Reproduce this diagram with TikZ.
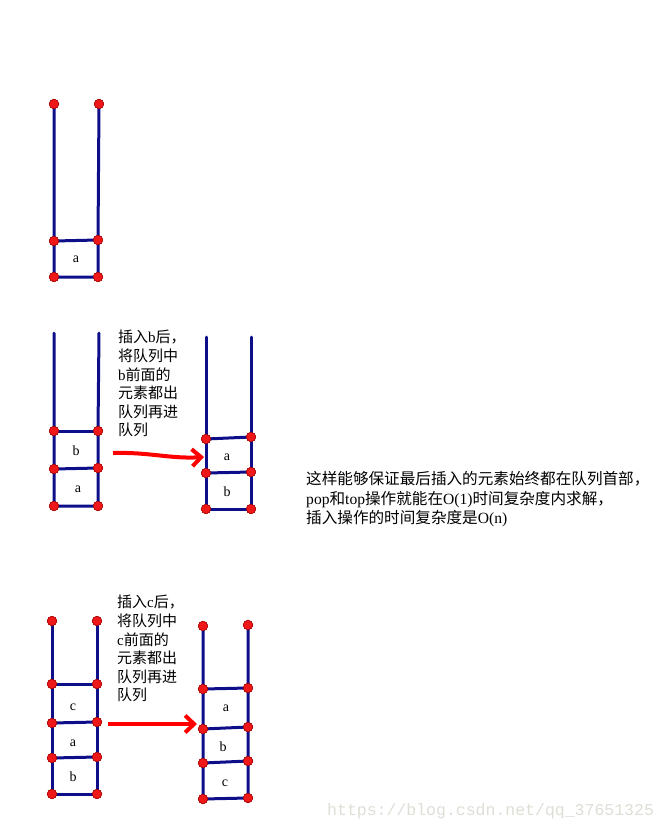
\documentclass[tikz,border=0pt]{standalone}
\usepackage{fontspec}
\setmainfont{Liberation Serif}
\newfontfamily\cjk{Noto Sans CJK SC}
\newfontfamily\wmfont{Liberation Mono}
\usetikzlibrary{arrows.meta}
\definecolor{wallblue}{RGB}{14,14,138}
\definecolor{dotred}{RGB}{238,24,24}
\definecolor{wmgray}{RGB}{222,222,214}
\begin{document}
\begin{tikzpicture}[x=1pt,y=-1pt,
  wall/.style={draw=wallblue, line width=3pt, line cap=round},
  dot/.style={circle, fill=dotred, draw=red!65!black, line width=0.5pt, minimum size=9.5pt, inner sep=0pt},
  lbl/.style={font=\fontsize{14}{14}\selectfont, inner sep=0pt},
  note/.style={font=\cjk\fontsize{15}{18.6}\selectfont, align=left, anchor=north west, inner sep=0pt},
  bignote/.style={font=\cjk\fontsize{15.6}{19.5}\selectfont, align=left, anchor=north west, inner sep=0pt},
  movearrow/.style={draw=red, line width=4pt, -{Straight Barb[length=9pt,width=17pt]}}]
\useasboundingbox (0,0) rectangle (668,830);

% ---------- stack 1 ----------
\node[dot] (a1) at (54,104) {};
\node[dot] (a2) at (99,104) {};
\node[dot] (a3) at (54,241) {};
\node[dot] (a4) at (98,240) {};
\node[dot] (a5) at (54,277) {};
\node[dot] (a6) at (98,277) {};
\draw[wall] (a1.center) -- (a3.center) -- (a5.center) -- (a6.center) -- (a4.center) -- (a2.center);
\draw[wall] (a3.center) -- (a4.center);
\foreach \n in {a1,a2,a3,a4,a5,a6} \node[dot] at (\n) {};
\node[lbl] (la1) at (76,259) {a};

% ---------- stack 2 left ----------
\coordinate (s2tl) at (54,333); \coordinate (s2tr) at (99,333);
\node[dot] (b1) at (54,431) {};
\node[dot] (b2) at (98,431) {};
\node[dot] (b3) at (54,469) {};
\node[dot] (b4) at (98,468) {};
\node[dot] (b5) at (54,506) {};
\node[dot] (b6) at (98,506) {};
\draw[wall] (s2tl) -- (b1.center) -- (b3.center) -- (b5.center) -- (b6.center) -- (b4.center) -- (b2.center) -- (s2tr);
\draw[wall] (b1.center) -- (b2.center);
\draw[wall] (b3.center) -- (b4.center);
\foreach \n in {b1,b2,b3,b4,b5,b6} \node[dot] at (\n) {};
\node[lbl] (lb1) at (76,451) {b};
\node[lbl] (lb2) at (78,489) {a};

\node[note] (t2) at (118,330) {插入{\rmfamily b}后，\\将队列中\\{\rmfamily b}前面的\\元素都出\\队列再进\\队列};

\coordinate (ar2s) at (113,453);
\coordinate (ar2e) at (204,457);
\draw[movearrow] (ar2s) .. controls (150,452) and (170,459) .. (ar2e);

% ---------- stack 2 right ----------
\coordinate (s3tl) at (206,337); \coordinate (s3tr) at (251,337);
\node[dot] (c1) at (206,439) {};
\node[dot] (c2) at (251,437) {};
\node[dot] (c3) at (206,473) {};
\node[dot] (c4) at (251,472) {};
\node[dot] (c5) at (206,509) {};
\node[dot] (c6) at (251,509) {};
\draw[wall] (s3tl) -- (c1.center) -- (c3.center) -- (c5.center) -- (c6.center) -- (c4.center) -- (c2.center) -- (s3tr);
\draw[wall] (c1.center) -- (c2.center);
\draw[wall] (c3.center) -- (c4.center);
\foreach \n in {c1,c2,c3,c4,c5,c6} \node[dot] at (\n) {};
\node[lbl] (lc1) at (227,457) {a};
\node[lbl] (lc2) at (227,492) {b};

% ---------- right note ----------
\node[bignote] (t4) at (306,471.5) {这样能够保证最后插入的元素始终都在队列首部，\\{\rmfamily pop}和{\rmfamily top}操作就能在{\rmfamily O(1)}时间复杂度内求解，\\插入操作的时间复杂度是{\rmfamily O(n)}};

% ---------- stack 3 left ----------
\node[dot] (d1) at (52,621) {};
\node[dot] (d2) at (97,621) {};
\node[dot] (d3) at (52,684) {};
\node[dot] (d4) at (97,684) {};
\node[dot] (d5) at (52,723) {};
\node[dot] (d6) at (97,722) {};
\node[dot] (d7) at (52,758) {};
\node[dot] (d8) at (97,757) {};
\node[dot] (d9) at (52,794) {};
\node[dot] (d10) at (97,794) {};
\draw[wall] (d1.center) -- (d3.center) -- (d5.center) -- (d7.center) -- (d9.center) -- (d10.center) -- (d8.center) -- (d6.center) -- (d4.center) -- (d2.center);
\draw[wall] (d3.center) -- (d4.center);
\draw[wall] (d5.center) -- (d6.center);
\draw[wall] (d7.center) -- (d8.center);
\foreach \n in {d1,d2,d3,d4,d5,d6,d7,d8,d9,d10} \node[dot] at (\n) {};
\node[lbl] (ld1) at (73,707) {c};
\node[lbl] (ld2) at (73,743) {a};
\node[lbl] (ld3) at (73,777) {b};

\node[note] (t3) at (117,595) {插入{\rmfamily c}后，\\将队列中\\{\rmfamily c}前面的\\元素都出\\队列再进\\队列};

\coordinate (ar3s) at (108,724);
\coordinate (ar3e) at (197,724);
\draw[movearrow] (ar3s) -- (ar3e);

% ---------- stack 3 right ----------
\node[dot] (e1) at (203,626) {};
\node[dot] (e2) at (248,625) {};
\node[dot] (e3) at (203,689) {};
\node[dot] (e4) at (248,688) {};
\node[dot] (e5) at (203,729) {};
\node[dot] (e6) at (248,727) {};
\node[dot] (e7) at (203,763) {};
\node[dot] (e8) at (248,761) {};
\node[dot] (e9) at (203,799) {};
\node[dot] (e10) at (248,798) {};
\draw[wall] (e1.center) -- (e3.center) -- (e5.center) -- (e7.center) -- (e9.center) -- (e10.center) -- (e8.center) -- (e6.center) -- (e4.center) -- (e2.center);
\draw[wall] (e3.center) -- (e4.center);
\draw[wall] (e5.center) -- (e6.center);
\draw[wall] (e7.center) -- (e8.center);
\foreach \n in {e1,e2,e3,e4,e5,e6,e7,e8,e9,e10} \node[dot] at (\n) {};
\node[lbl] (le1) at (226,708) {a};
\node[lbl] (le2) at (223,747) {b};
\node[lbl] (le3) at (225,783) {c};

% ---------- watermark ----------
\node[font=\wmfont\fontsize{16.5}{16.5}\selectfont, text=wmgray, anchor=base west, inner sep=0pt] (wm) at (327,815) {https://blog.csdn.net/qq\_37651325};
\end{tikzpicture}
\end{document}
